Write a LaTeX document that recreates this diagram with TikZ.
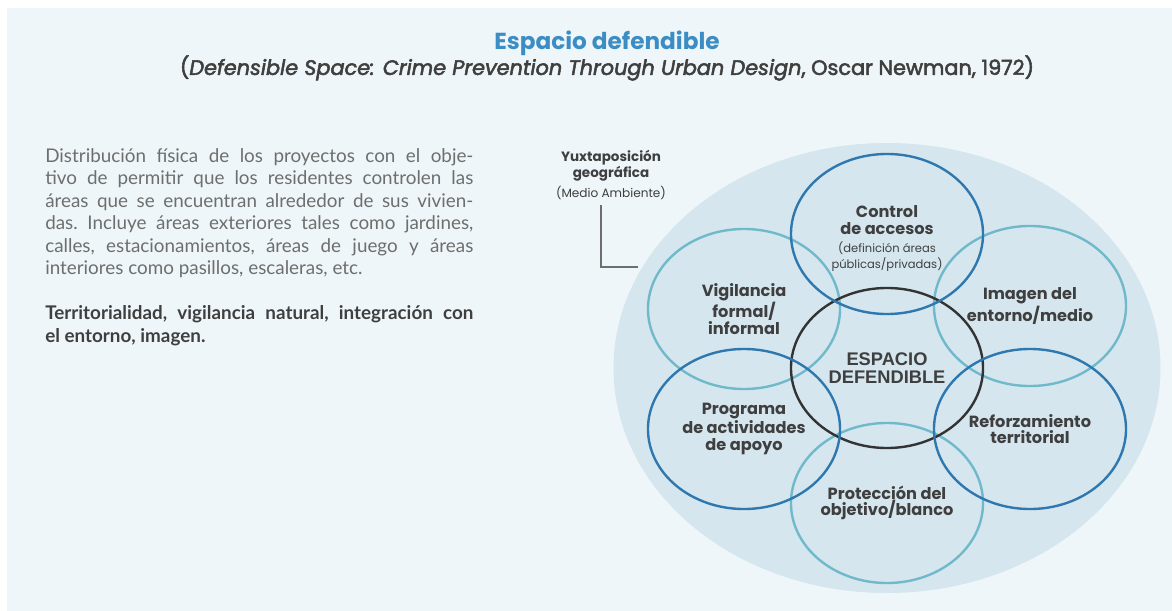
\documentclass[tikz,border=0pt]{standalone}
\usepackage{fontspec}
\setmainfont{Lato}
\newfontfamily\pop{Poppins}
\newfontfamily\popm{Poppins}[RawFeature={embolden=2.5}]
\newfontfamily\arial{Liberation Sans}
\usetikzlibrary{shapes.geometric}
\definecolor{fondo}{HTML}{EEF6F9}
\definecolor{elipse}{HTML}{D5E6EE}
\definecolor{azul}{HTML}{2F78AF}
\definecolor{turquesa}{HTML}{70B9CB}
\definecolor{negro}{HTML}{333333}
\definecolor{titulo}{HTML}{3C8DC4}
\definecolor{textoc}{HTML}{3F3F3F}
\definecolor{gris}{HTML}{6E6E6E}
\begin{document}
\begin{tikzpicture}[x=0.025cm,y=0.025cm,
    zona/.style={ellipse,draw,line width=1.7pt,minimum width=4.8cm,minimum height=4cm,inner sep=0pt,align=center,text=textoc,font=\pop\bfseries\fontsize{11.5}{11.8}\selectfont},
    oscuro/.style={zona,draw=azul},
    claro/.style={zona,draw=turquesa}]
  % fondo y elipse exterior
  \fill[white] (0,0) rectangle (1172,-611);
  \fill[fondo] (7,-8) rectangle (1172,-611);
  \fill[elipse] (887,-368) ellipse [x radius=273.5, y radius=225];

  % titulo
  \node[text=titulo,font=\pop\bfseries\fontsize{16.5}{18}\selectfont] (titulo) at (607,-43) {Espacio defendible};
  \node[text=textoc,font=\popm\fontsize{14.8}{16}\selectfont] (fuente) at (607,-68) {(\textit{Defensible Space: Crime Prevention Through Urban Design}, Oscar Newman, 1972)};

  % texto de la izquierda
  \node[anchor=north west,inner sep=0pt,text width=10.7cm,align=justify,text=gris,font=\fontsize{13.4}{16}\selectfont] (texto) at (45,-148)
    {\frenchspacing\tolerance=10000 Distribución física de los proyectos con el obje-\linebreak tivo de permitir que los residentes controlen las\linebreak áreas que se encuentran alrededor de sus vivien-\linebreak das. Incluye áreas exteriores tales como jardines,\linebreak calles, estacionamientos, áreas de juego y áreas\linebreak interiores como pasillos, escaleras, etc.\par\vspace{16pt}
    {\bfseries\color{textoc}Territorialidad, vigilancia natural, integración con\linebreak el entorno, imagen.\par}};

  % circulos
  \node[claro] (vigilancia) at (744,-309) {Vigilancia\\formal/\\informal};
  \node[claro] (imagen) at (1030,-306) {Imagen del\\entorno/medio};
  \node[claro] (proteccion) at (887,-503) {Protección del\\objetivo/blanco};
  \node[zona,draw=negro,font=\arial\bfseries\fontsize{13}{13}\selectfont] (espacio) at (887,-368) {ESPACIO\\DEFENDIBLE};
  \node[oscuro] (control) at (887,-234) {\rule{0pt}{15pt}Control\\de accesos\\[1pt]{\mdseries\fontsize{8.2}{11.5}\selectfont (definición áreas}\\{\mdseries\fontsize{8.2}{11.5}\selectfont públicas/privadas)}};
  \node[oscuro] (programa) at (744,-429) {Programa\\de actividades\\de apoyo};
  \node[oscuro] (reforzamiento) at (1030,-429) {Reforzamiento\\territorial};

  % etiqueta del medio
  \node[align=center,text=textoc,font=\pop\bfseries\fontsize{9.6}{10}\selectfont] (yuxta) at (611,-175) {Yuxtaposición\\geográfica\\[3pt]{\mdseries\fontsize{8.6}{9}\selectfont (Medio Ambiente)}};
  \coordinate (guia0) at (601,-205);
  \coordinate (guia1) at (638,-267);
  \draw[gris,line width=0.8pt] (guia0) |- (guia1);
\end{tikzpicture}
\end{document}
